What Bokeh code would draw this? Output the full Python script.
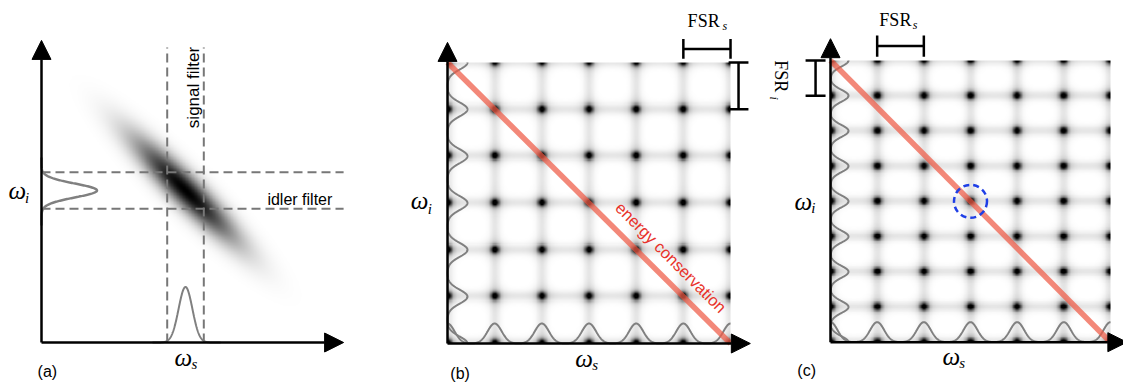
import numpy as np
from bokeh.plotting import figure
from bokeh.layouts import row
from bokeh.models import Range1d, Arrow, NormalHead, ColumnDataSource, LinearColorMapper
from bokeh.core.properties import value
from bokeh.embed import file_html
from bokeh.resources import INLINE

H = 383

# ---------------- data ----------------
# (a) filtered biphoton: filter pass-bands and joint spectrum (arb. units)
a_signal_filter = [4.19, 5.41]
a_idler_filter = [4.457, 5.677]
a_jsa_center = [4.8, 5.07]
a_jsa_sigma = [1.6, 0.34]          # along / across the anti-diagonal
a_marginal_sigma = 0.23
a_marginal_peak = 1.85
a_signal_span = [3.7, 5.97]
a_idler_span = [3.9, 6.17]
a_axis_len = [10.07, 10.07]
a_filter_len = [9.83, 10.07]

# (b) ring resonances with equal FSR (units of FSR)
b_signal_res = [0, 1, 2, 3, 4, 5, 6]
b_idler_res = [0, 1, 2, 3, 4, 5, 6]
b_axis_len = [6.42, 6.43]

# (c) ring resonances, FSR_i smaller than FSR_s
c_signal_res = [0, 1, 2, 3, 4, 5, 6]
c_idler_res = [0, 1, 2, 3, 4, 5, 6, 7, 8]
c_axis_len = [6.35, 8.62]
c_marked = [3, 4]

GRAY_PAL = ["#%02x%02x%02x" % (v, v, v) for v in range(255, -1, -1)]
CURVE = "#808080"
RED_LINE = "#ee5a45"
RED_TEXT = "#e8322a"
BLUE = "#1f3fe6"
SANS = "Liberation Sans"
SERIF = "Liberation Serif"


def make_fig(w, xr, yr):
    p = figure(width=w, height=H, x_range=Range1d(*xr), y_range=Range1d(*yr),
               output_backend="svg", toolbar_location=None, min_border=0,
               x_axis_type=None, y_axis_type=None, outline_line_color=None,
               background_fill_color="white", border_fill_color="white")
    p.grid.visible = False
    return p


def txt(p, x, y, s, size, font=SANS, style="normal", color="black",
        align="left", baseline="middle", angle=0.0):
    p.text(x=[x], y=[y], text=[s], text_font=value(font), text_font_size=f"{size}px",
           text_font_style=style, text_color=color, text_align=align,
           text_baseline=baseline, angle=angle)


def axes(p, lx, ly, head=19):
    src = ColumnDataSource(dict(x0=[0, 0], y0=[0, 0], x1=[lx, 0], y1=[0, ly]))
    p.add_layout(Arrow(end=NormalHead(size=head, fill_color="black", line_color="black"),
                       x_start="x0", y_start="y0", x_end="x1", y_end="y1",
                       source=src, line_color="black", line_width=2.5))


def omega(p, x, y, sub, xs, ys):
    txt(p, x, y, "ω", 25, font=SERIF, style="italic")
    txt(p, xs, ys, sub, 15, font=SERIF, style="italic")


def gauss_comb(t, res, s):
    return sum(np.exp(-(t - r) ** 2 / (2 * s * s)) for r in res)


def resonance_panel(p, sres, ires, sx, sy, ampx, ampy, sgx, sgy):
    # sx, sy: resonance linewidth (sigma) along each axis, in that axis' units
    x0, x1 = min(sres), max(sres)
    y0, y1 = min(ires), max(ires)
    nx = int((x1 - x0) * 60) + 1
    ny = int((y1 - y0) * 60 * 0.75) + 1
    xs = np.linspace(x0, x1, nx)
    ys = np.linspace(y0, y1, ny)
    core = np.outer(gauss_comb(ys, ires, sy), gauss_comb(xs, sres, sx))
    halo = np.outer(gauss_comb(ys, ires, 2.3 * sy), gauss_comb(xs, sres, 2.3 * sx))
    lines = (gauss_comb(ys, ires, 1.3 * sy)[:, None] + gauss_comb(xs, sres, 1.3 * sx)[None, :])
    v = 0.8 * core + 0.14 * halo + 0.09 * lines
    p.image(image=[v], x=x0, y=y0, dw=x1 - x0, dh=y1 - y0,
            color_mapper=LinearColorMapper(palette=GRAY_PAL, low=0, high=0.9))
    t = np.linspace(y0, y1, 800)
    p.line(ampx * gauss_comb(t, ires, sgy), t, line_color=CURVE, line_width=2)
    t2 = np.linspace(x0, x1, 800)
    p.line(t2, ampy * gauss_comb(t2, sres, sgx), line_color=CURVE, line_width=2)
    p.line([x0, x1], [y1, y0], line_color=RED_LINE, line_alpha=0.72, line_width=5.5)


# ---------------- panel (a) ----------------
sa = 30.0
pa = make_fig(374, (-41 / sa, (374 - 41) / sa), (-41 / sa, (H - 41) / sa))
gx = np.linspace(0.5, 9.5, 361)
gy = np.linspace(0.5, 9.8, 373)
X, Y = np.meshgrid(gx, gy)
u = ((X - a_jsa_center[0]) - (Y - a_jsa_center[1])) / np.sqrt(2)
w = ((X - a_jsa_center[0]) + (Y - a_jsa_center[1])) / np.sqrt(2)
jsa = np.exp(-(u ** 2 / (2 * a_jsa_sigma[0] ** 2) + w ** 2 / (2 * a_jsa_sigma[1] ** 2)))
pa.image(image=[jsa], x=gx[0], y=gy[0], dw=gx[-1] - gx[0], dh=gy[-1] - gy[0],
         color_mapper=LinearColorMapper(palette=GRAY_PAL, low=0, high=1))

pa.segment(x0=a_signal_filter, y0=[0, 0], x1=a_signal_filter, y1=[a_filter_len[0]] * 2,
           line_color="#777777", line_width=2, line_dash="9 5")
pa.segment(x0=[0, 0], y0=a_idler_filter, x1=[a_filter_len[1]] * 2, y1=a_idler_filter,
           line_color="#777777", line_width=2, line_dash="9 5")

cs = np.mean(a_signal_filter)
ci = np.mean(a_idler_filter)
ts = np.linspace(*a_signal_span, 300)
pa.line(ts, a_marginal_peak * np.exp(-(ts - cs) ** 2 / (2 * a_marginal_sigma ** 2)),
        line_color=CURVE, line_width=2)
ti = np.linspace(*a_idler_span, 300)
pa.line(a_marginal_peak * np.exp(-(ti - ci) ** 2 / (2 * a_marginal_sigma ** 2)), ti,
        line_color=CURVE, line_width=2.5)
axes(pa, *a_axis_len)

omega(pa, -1.1, 5.07, "i", -0.55, 4.83)
omega(pa, 4.43, -0.5, "s", 5.0, -0.7)
txt(pa, -0.13, -0.97, "(a)", 16)
txt(pa, 5.07, 8.5, "signal filter", 17, align="center", angle=np.pi / 2)
txt(pa, 7.53, 4.78, "idler filter", 16)

# ---------------- panel (b) ----------------
sbx, sby = 47.17, 46.83
pb = make_fig(386, (-73 / sbx, -73 / sbx + 386 / sbx), (-40 / sby, -40 / sby + H / sby))
resonance_panel(pb, b_signal_res, b_idler_res, 0.06, 0.06, 0.424, 0.427, 0.15, 0.15)
axes(pb, *b_axis_len)
# FSR brackets
bs0, bs1 = b_signal_res[-2], b_signal_res[-1]
bi0, bi1 = b_idler_res[-2], b_idler_res[-1]
ybar, xbar = 6.29, 6.17
pb.segment(x0=[bs0, bs0, bs1], y0=[ybar, ybar - 0.21, ybar - 0.21],
           x1=[bs1, bs0, bs1], y1=[ybar, ybar + 0.21, ybar + 0.21],
           line_color="black", line_width=2.5)
pb.segment(x0=[xbar, xbar - 0.21, xbar - 0.21], y0=[bi0, bi0, bi1],
           x1=[xbar, xbar + 0.21, xbar + 0.21], y1=[bi1, bi0, bi1],
           line_color="black", line_width=2.5)
txt(pb, 5.43, 6.88, "FSR", 18, font=SERIF, align="center")
txt(pb, 5.83, 6.79, "s", 12, font=SERIF, style="italic")
omega(pb, -0.78, 3.05, "i", -0.42, 2.88)
omega(pb, 2.71, -0.32, "s", 3.07, -0.45)
txt(pb, 0.06, -0.63, "(b)", 16)
txt(pb, 4.74, 1.84, "energy conservation", 16.5, color=RED_TEXT, align="center", angle=-np.pi / 4)

# ---------------- panel (c) ----------------
scx, scy = 46.67, 35.21
pc = make_fig(363, (-70 / scx, -70 / scx + 363 / scx), (-41.3 / scy, -41.3 / scy + H / scy))
resonance_panel(pc, c_signal_res, c_idler_res, 0.06, 0.075, 0.386, 0.57, 0.15, 0.17)
pc.scatter(x=[c_marked[0]], y=[c_marked[1]], marker="circle", size=33, fill_alpha=0,
           line_color=BLUE, line_width=2.5, line_dash="6 4")
axes(pc, *c_axis_len)
cs0, cs1 = c_signal_res[1], c_signal_res[2]
ci0, ci1 = c_idler_res[-2], c_idler_res[-1]
ybar, xbar = 8.41, -0.32
pc.segment(x0=[cs0, cs0, cs1], y0=[ybar, ybar - 0.30, ybar - 0.30],
           x1=[cs1, cs0, cs1], y1=[ybar, ybar + 0.30, ybar + 0.30],
           line_color="black", line_width=2.5)
pc.segment(x0=[xbar, xbar - 0.214, xbar - 0.214], y0=[ci0, ci0, ci1],
           x1=[xbar, xbar + 0.214, xbar + 0.214], y1=[ci1, ci0, ci1],
           line_color="black", line_width=2.5)
txt(pc, 1.39, 9.14, "FSR", 18, font=SERIF, align="center")
txt(pc, 1.76, 9.02, "s", 12, font=SERIF, style="italic")
txt(pc, -1.05, 7.55, "FSR", 18, font=SERIF, align="center", angle=-np.pi / 2)
txt(pc, -1.20, 6.93, "i", 12, font=SERIF, style="italic", align="center", angle=-np.pi / 2)
omega(pc, -0.77, 4.0, "i", -0.41, 3.82)
omega(pc, 2.4, -0.41, "s", 2.76, -0.58)
txt(pc, -0.71, -0.80, "(c)", 16)

layout = row(pa, pb, pc)
open("out.html", "w").write(file_html(layout, INLINE))
